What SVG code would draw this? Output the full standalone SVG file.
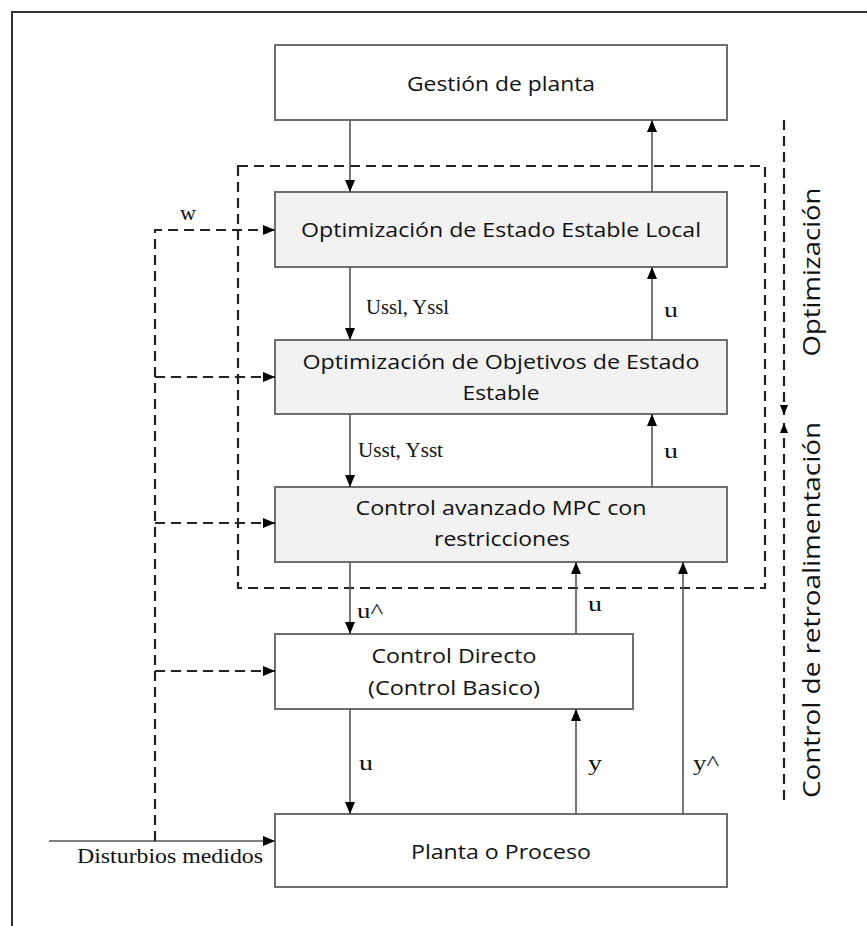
<svg xmlns="http://www.w3.org/2000/svg" width="867" height="926" viewBox="0 0 867 926">
  <defs>
    <marker id="arr" viewBox="0 0 12 10" refX="12" refY="5" markerWidth="12" markerHeight="10" markerUnits="userSpaceOnUse" orient="auto">
      <path d="M0,0 L12,5 L0,10 Z" fill="#000"/>
    </marker>
    <marker id="arrS" viewBox="0 0 10 8" refX="10" refY="4" markerWidth="10" markerHeight="8" markerUnits="userSpaceOnUse" orient="auto">
      <path d="M0,0 L10,4 L0,8 Z" fill="#000"/>
    </marker>
  </defs>
  <style>
    .box { stroke: #6e6e6e; stroke-width: 2; }
    .white { fill: #ffffff; }
    .grey { fill: #f2f2f2; }
    .lbl { font-family: "Open Sans", "Liberation Sans", sans-serif; font-size: 20px; fill: #111; }
    .ser { font-family: "Liberation Serif", "DejaVu Serif", serif; font-size: 21px; fill: #111; }
    .solid { stroke: #555; stroke-width: 1.6; fill: none; }
    .dash { stroke: #222; stroke-width: 2.2; stroke-dasharray: 10 6; fill: none; }
    .side { font-family: "Open Sans", "Liberation Sans", sans-serif; font-size: 23px; fill: #111; }
  </style>

  <rect width="867" height="926" fill="#fff"/>
  <!-- frame -->
  <path d="M12,926 L12,12 L867,12" fill="none" stroke="#333" stroke-width="2"/>

  <!-- dashed group boundary -->
  <rect x="238" y="166" width="527" height="422" class="dash"/>

  <g id="gestion">
    <rect x="275" y="45" width="452" height="75" class="box white"/>
    <text class="lbl" x="501" y="91" text-anchor="middle" textLength="188" lengthAdjust="spacingAndGlyphs">Gestión de planta</text>
  </g>
  <g id="opt-local">
    <rect x="275" y="192" width="452" height="75" class="box grey"/>
    <text class="lbl" x="501" y="237" text-anchor="middle" textLength="400" lengthAdjust="spacingAndGlyphs">Optimización de Estado Estable Local</text>
  </g>
  <g id="opt-objetivos">
    <rect x="275" y="340" width="452" height="74" class="box grey"/>
    <text class="lbl" x="501" y="369" text-anchor="middle" textLength="397" lengthAdjust="spacingAndGlyphs">Optimización de Objetivos de Estado</text>
    <text class="lbl" x="501" y="400" text-anchor="middle" textLength="77" lengthAdjust="spacingAndGlyphs">Estable</text>
  </g>
  <g id="mpc">
    <rect x="275" y="487" width="452" height="75" class="box grey"/>
    <text class="lbl" x="501" y="515" text-anchor="middle" textLength="291" lengthAdjust="spacingAndGlyphs">Control avanzado MPC con</text>
    <text class="lbl" x="502" y="546" text-anchor="middle" textLength="136" lengthAdjust="spacingAndGlyphs">restricciones</text>
  </g>
  <g id="control-directo">
    <rect x="275" y="634" width="358" height="75" class="box white"/>
    <text class="lbl" x="454" y="663" text-anchor="middle" textLength="165" lengthAdjust="spacingAndGlyphs">Control Directo</text>
    <text class="lbl" x="454" y="695" text-anchor="middle" textLength="172" lengthAdjust="spacingAndGlyphs">(Control Basico)</text>
  </g>
  <g id="planta">
    <rect x="275" y="814" width="452" height="73" class="box white"/>
    <text class="lbl" x="501" y="859" text-anchor="middle" textLength="180" lengthAdjust="spacingAndGlyphs">Planta o Proceso</text>
  </g>

  <g id="connectors">
    <!-- downward signals -->
    <line x1="350" y1="120" x2="350" y2="192" class="solid" marker-end="url(#arr)"/>
    <line x1="350" y1="267" x2="350" y2="340" class="solid" marker-end="url(#arr)"/>
    <line x1="350" y1="414" x2="350" y2="487" class="solid" marker-end="url(#arr)"/>
    <line x1="350" y1="562" x2="350" y2="634" class="solid" marker-end="url(#arr)"/>
    <line x1="350" y1="709" x2="350" y2="814" class="solid" marker-end="url(#arr)"/>
    <!-- upward signals -->
    <line x1="652" y1="192" x2="652" y2="120" class="solid" marker-end="url(#arr)"/>
    <line x1="652" y1="340" x2="652" y2="267" class="solid" marker-end="url(#arr)"/>
    <line x1="652" y1="487" x2="652" y2="414" class="solid" marker-end="url(#arr)"/>
    <line x1="576" y1="634" x2="576" y2="562" class="solid" marker-end="url(#arr)"/>
    <line x1="576" y1="814" x2="576" y2="709" class="solid" marker-end="url(#arr)"/>
    <line x1="683" y1="814" x2="683" y2="562" class="solid" marker-end="url(#arr)"/>
    <!-- measured disturbances -->
    <line x1="49" y1="841" x2="275" y2="841" class="solid" marker-end="url(#arr)"/>
    <!-- feedforward dashed lines -->
    <path d="M155,841 L155,230 L275,230" class="dash" marker-end="url(#arr)"/>
    <line x1="155" y1="377" x2="275" y2="377" class="dash" marker-end="url(#arr)"/>
    <line x1="155" y1="523" x2="275" y2="523" class="dash" marker-end="url(#arr)"/>
    <line x1="155" y1="671" x2="275" y2="671" class="dash" marker-end="url(#arr)"/>
    <!-- layer span indicators -->
    <line x1="784" y1="120" x2="784" y2="415" class="dash" marker-end="url(#arrS)"/>
    <line x1="784" y1="800" x2="784" y2="423" class="dash" marker-end="url(#arrS)"/>
  </g>

  <g id="labels">
    <text class="ser" x="180" y="220" textLength="16" lengthAdjust="spacingAndGlyphs">w</text>
    <text class="ser" x="366" y="314" textLength="83" lengthAdjust="spacingAndGlyphs">Ussl, Yssl</text>
    <text class="ser" x="358" y="457" textLength="85" lengthAdjust="spacingAndGlyphs">Usst, Ysst</text>
    <text class="ser" x="664" y="317" textLength="14" lengthAdjust="spacingAndGlyphs">u</text>
    <text class="ser" x="664" y="458" textLength="14" lengthAdjust="spacingAndGlyphs">u</text>
    <text class="ser" x="357" y="618" textLength="26" lengthAdjust="spacingAndGlyphs">u^</text>
    <text class="ser" x="588" y="611" textLength="14" lengthAdjust="spacingAndGlyphs">u</text>
    <text class="ser" x="359" y="770" textLength="14" lengthAdjust="spacingAndGlyphs">u</text>
    <text class="ser" x="588" y="770" textLength="14" lengthAdjust="spacingAndGlyphs">y</text>
    <text class="ser" x="693" y="770" textLength="26" lengthAdjust="spacingAndGlyphs">y^</text>
    <text class="ser" x="77" y="863" textLength="186" lengthAdjust="spacingAndGlyphs">Disturbios medidos</text>
    <text class="side" transform="translate(820,272) rotate(-90)" text-anchor="middle" textLength="169" lengthAdjust="spacingAndGlyphs">Optimización</text>
    <text class="side" transform="translate(820,610) rotate(-90)" text-anchor="middle" textLength="376" lengthAdjust="spacingAndGlyphs">Control de retroalimentación</text>
  </g>
</svg>
